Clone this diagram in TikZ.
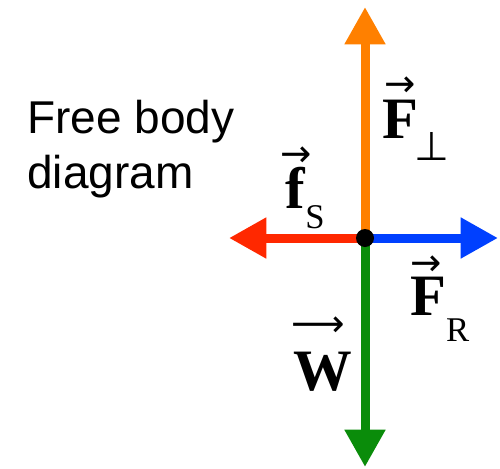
\documentclass[tikz,border=0pt]{standalone}
\usepackage{fontspec}
\setmainfont{Liberation Serif}
\newfontfamily\sansf{Liberation Sans}
\newfontfamily\arrowf{DejaVu Sans}
\usetikzlibrary{arrows.meta}
\definecolor{forange}{RGB}{255,128,0}
\definecolor{fred}{RGB}{255,40,0}
\definecolor{fblue}{RGB}{0,64,255}
\definecolor{fgreen}{RGB}{10,140,10}
\newcommand\ovarr[3]{\makebox[0pt][l]{\hspace*{#1}\raisebox{#2}{\arrowf\fontsize{28}{28}\selectfont #3}}}
\newcommand\subt[2]{\raisebox{#1}{\fontsize{26}{26}\selectfont #2}}
\tikzset{
  force/.style={line width=6.75pt, -{Triangle[length=28pt,width=29pt]}},
  lab/.style={inner sep=0pt, anchor=base west, font=\fontsize{44}{44}\selectfont}
}
\begin{document}
\begin{tikzpicture}[x=0.75pt,y=-0.75pt]
\useasboundingbox (0,0) rectangle (500,468);
\coordinate (c) at (365,238);
\coordinate (tup) at (365,7);
\coordinate (tleft) at (229,238);
\coordinate (tright) at (498,238);
\coordinate (tdown) at (365,467);
\draw[force, forange] (c) -- (tup);
\draw[force, fred] (c) -- (tleft);
\draw[force, fblue] (c) -- (tright);
\draw[force, fgreen] (c) -- (tdown);
\node[circle, fill=black, minimum size=13.5pt, inner sep=0pt] (dot) at (c) {};
\node[inner sep=0pt, anchor=north west, align=left, font=\sansf\fontsize{34.5}{41.25}\selectfont] (title) at (27,100) {Free body\\diagram};
\node[lab] (fperp) at (382,138) {\ovarr{2pt}{31pt}{→}\textbf{F}\kern-3pt\subt{-16.5pt}{\arrowf\fontsize{30}{30}\selectfont ⊥}};
\node[lab] (fs) at (285,208) {\ovarr{-3.5pt}{31pt}{→}\textbf{f}\subt{-15pt}{S}};
\node[lab] (fr) at (410,315) {\ovarr{0pt}{30pt}{→}\textbf{F}\subt{-20pt}{R}};
\node[lab] (w) at (293,390) {\ovarr{-1.5pt}{40pt}{⟶}\textbf{W}};
\end{tikzpicture}
\end{document}
